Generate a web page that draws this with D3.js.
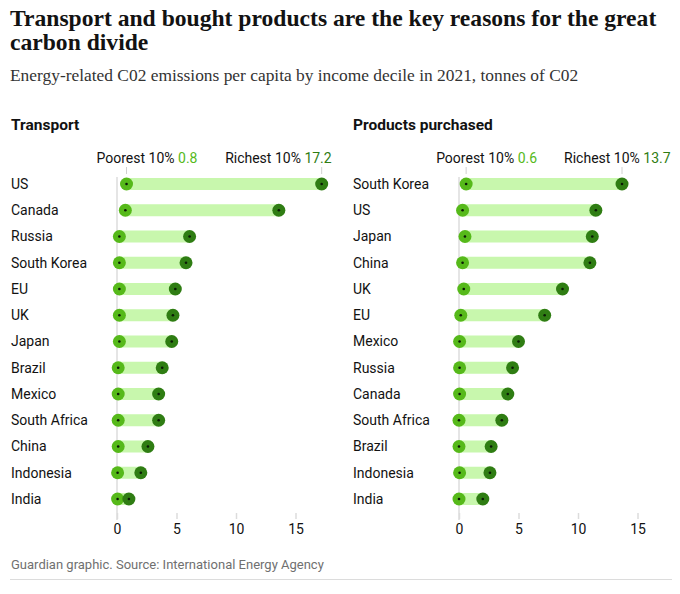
<!DOCTYPE html>
<html>
<head>
<meta charset="utf-8">
<script src="https://cdn.jsdelivr.net/npm/d3@7"></script>
<style>
  body { margin: 0; background: #fff; }
  text { font-family: Roboto, "Noto Sans", sans-serif; }
</style>
</head>
<body>
<div id="chart"></div>
<script>
// Transport, ordered as in the chart
const transportCountries = ["US", "Canada", "Russia", "South Korea", "EU", "UK", "Japan",
    "Brazil", "Mexico", "South Africa", "China", "Indonesia", "India"];
const transportPoorest = [0.8, 0.7, 0.2, 0.2, 0.2, 0.2, 0.2, 0.1, 0.1, 0.1, 0.1, 0.05, 0.05];
const transportRichest = [17.2, 13.6, 6.1, 5.8, 4.9, 4.7, 4.6, 3.8, 3.5, 3.5, 2.6, 2.0, 1.0];

// Products purchased
const productCountries = ["South Korea", "US", "Japan", "China", "UK", "EU", "Mexico",
    "Russia", "Canada", "South Africa", "Brazil", "Indonesia", "India"];
const productPoorest = [0.6, 0.3, 0.5, 0.3, 0.4, 0.15, 0.05, 0.05, 0.05, 0.0, 0.0, 0.05, 0.0];
const productRichest = [13.7, 11.5, 11.2, 11.0, 8.7, 7.2, 5.0, 4.5, 4.1, 3.6, 2.7, 2.6, 2.0];

const xTicks = [0, 5, 10, 15];

var width = 680, height = 594;

var svg = d3.select("#chart")
    .append("svg")
    .attr("width", width)
    .attr("height", height);

// headline
var title = svg.append("text")
    .attr("x", 10)
    .attr("y", 26)
    .style("font-family", "'Liberation Serif', serif")
    .style("font-weight", "bold")
    .style("font-size", "23.6px")
    .style("fill", "#121212");
title.append("tspan").attr("x", 10).attr("dy", 0)
    .text("Transport and bought products are the key reasons for the great");
title.append("tspan").attr("x", 10).attr("dy", 23.5)
    .text("carbon divide");

svg.append("text")
    .attr("x", 10)
    .attr("y", 81)
    .style("font-family", "'Liberation Serif', serif")
    .style("font-size", "17.4px")
    .style("fill", "#333")
    .text("Energy-related C02 emissions per capita by income decile in 2021, tonnes of C02");

function panel(name, countries, poorest, richest, x0, labelX, rightEdge) {
    var g = svg.append("g");

    var x = d3.scaleLinear()
        .domain([0, 15])
        .range([x0, x0 + 178.5]);

    var y = d3.scalePoint()
        .domain(countries)
        .range([184, 499]);

    var rows = countries.map(function(c, i) {
        return { country: c, poor: poorest[i], rich: richest[i] };
    });

    g.append("text")
        .attr("x", labelX)
        .attr("y", 130)
        .style("font-weight", "bold")
        .style("font-size", "15.5px")
        .style("fill", "#121212")
        .text(name);

    // zero line
    g.append("line")
        .attr("x1", x(0)).attr("x2", x(0))
        .attr("y1", 177).attr("y2", 520)
        .attr("stroke", "#dcdcdc")
        .attr("stroke-width", 1.5);

    // x axis
    var axis = g.append("g")
        .attr("transform", "translate(0,513)")
        .call(d3.axisBottom(x).tickValues(xTicks).tickSize(6).tickPadding(5));
    axis.select(".domain").remove();
    axis.selectAll("line").attr("stroke", "#dcdcdc").attr("stroke-width", 1.5);
    axis.selectAll("text")
        .style("font-family", "Roboto, sans-serif")
        .style("font-size", "14px")
        .style("fill", "#121212");

    // country labels
    g.selectAll(".country")
        .data(rows)
        .enter()
        .append("text")
        .attr("class", "country")
        .attr("x", labelX)
        .attr("y", function(d) { return y(d.country); })
        .attr("dy", "0.35em")
        .style("font-size", "14px")
        .style("fill", "#121212")
        .text(function(d) { return d.country; });

    // bars
    g.selectAll(".bar")
        .data(rows)
        .enter()
        .append("rect")
        .attr("class", "bar")
        .attr("x", function(d) { return x(d.poor); })
        .attr("y", function(d) { return y(d.country) - 6; })
        .attr("width", function(d) { return x(d.rich) - x(d.poor); })
        .attr("height", 12)
        .attr("fill", "#c8f7ad");

    var first = rows[0];

    // annotation on the top row
    g.append("line")
        .attr("x1", x(first.poor)).attr("x2", x(first.poor))
        .attr("y1", 167).attr("y2", 174)
        .attr("stroke", "#d0d0d0");
    g.append("line")
        .attr("x1", x(first.rich)).attr("x2", x(first.rich))
        .attr("y1", 167).attr("y2", 174)
        .attr("stroke", "#d0d0d0");

    var lp = g.append("text")
        .attr("x", x(first.poor) - 30)
        .attr("y", 163)
        .style("font-size", "14px")
        .style("fill", "#121212");
    lp.append("tspan").text("Poorest 10% ");
    lp.append("tspan").style("fill", "#56b91a").text(first.poor);

    var lr = g.append("text")
        .attr("y", 163)
        .style("font-size", "14px")
        .style("fill", "#121212");
    lr.append("tspan").text("Richest 10% ");
    lr.append("tspan").style("fill", "#2f7d13").text(first.rich);

    // keep the richest label clear of the poorest one
    var poorEnd = x(first.poor) - 30 + lp.node().getComputedTextLength();
    var richW = lr.node().getComputedTextLength();
    var richStart = Math.max(x(first.rich) + 10 - richW, poorEnd + 27);
    lr.attr("x", Math.min(richStart, rightEdge - richW));

    // dots
    [["poor", "#56b91a"], ["rich", "#2f7d13"]].forEach(function(k) {
        g.selectAll(".dot-" + k[0])
            .data(rows)
            .enter()
            .append("circle")
            .attr("cx", function(d) { return x(d[k[0]]); })
            .attr("cy", function(d) { return y(d.country); })
            .attr("r", 6.5)
            .attr("fill", k[1]);
        g.selectAll(".pin-" + k[0])
            .data(rows)
            .enter()
            .append("circle")
            .attr("cx", function(d) { return x(d[k[0]]); })
            .attr("cy", function(d) { return y(d.country); })
            .attr("r", 1.3)
            .attr("fill", "#0a1a05");
    });
}

panel("Transport", transportCountries, transportPoorest, transportRichest, 117, 11, 340);
panel("Products purchased", productCountries, productPoorest, productRichest, 459, 353, 676);

svg.append("text")
    .attr("x", 11)
    .attr("y", 569)
    .style("font-size", "13px")
    .style("fill", "#707070")
    .text("Guardian graphic. Source: International Energy Agency");

svg.append("line")
    .attr("x1", 10).attr("x2", 672)
    .attr("y1", 579.5).attr("y2", 579.5)
    .attr("stroke", "#dcdcdc");
</script>
</body>
</html>
